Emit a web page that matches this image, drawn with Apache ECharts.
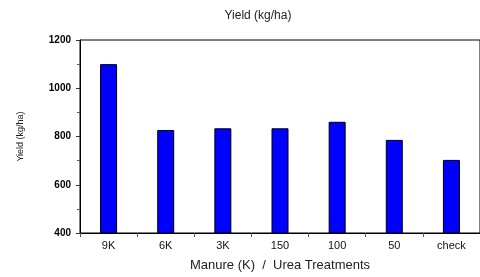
<!DOCTYPE html>
<html>
<head>
<meta charset="utf-8">
<script src="https://cdn.jsdelivr.net/npm/echarts@6/dist/echarts.min.js"></script>
<style>
  html, body { margin: 0; padding: 0; background: #fff; }
  #main { width: 480px; height: 277px; }
</style>
</head>
<body>
<div id="main"></div>
<script>
// treatments along the x axis
var treatments = ['9K', '6K', '3K', '150', '100', '50', 'check'];
// yield in kg/ha
var yields = [1100, 827, 834, 834, 861, 786, 703];

var myChart = echarts.init(document.getElementById('main'));

var option = {
  animation: false,
  backgroundColor: '#fff',
  title: {
    text: 'Yield (kg/ha)',
    left: 253,
    textAlign: 'center',
    top: 5,
    textStyle: { fontFamily: 'Liberation Sans', fontSize: 12, fontWeight: 'normal', color: '#222' }
  },
  grid: {
    left: 80, top: 40, right: -2, bottom: 44,
    show: true, borderColor: '#000', borderWidth: 1
  },
  xAxis: {
    type: 'category',
    data: treatments,
    name: 'Manure (K)  /  Urea Treatments',
    nameLocation: 'middle',
    nameGap: 26,
    nameTextStyle: { fontFamily: 'Liberation Sans', fontSize: 13, color: '#222' },
    axisLine: { lineStyle: { color: '#000', width: 1 } },
    axisTick: { show: true, length: 4, lineStyle: { color: '#555' } },
    axisLabel: { fontFamily: 'Liberation Sans', fontSize: 11, color: '#111', margin: 7 }
  },
  yAxis: {
    type: 'value',
    min: 400,
    max: 1200,
    interval: 200,
    name: 'Yield (kg/ha)',
    nameLocation: 'middle',
    nameGap: 55,
    nameTextStyle: { fontFamily: 'Liberation Sans', fontSize: 9, color: '#222' },
    axisLine: { show: true, lineStyle: { color: '#000', width: 1 } },
    axisTick: { show: true, length: 4, lineStyle: { color: '#333' } },
    minorTick: { show: true, splitNumber: 2, length: 3, lineStyle: { color: '#555' } },
    splitLine: { show: false },
    axisLabel: {
      fontFamily: 'Liberation Sans', fontSize: 10, fontWeight: 'bold', color: '#000', margin: 9,
      formatter: function (v) { return String(v); }
    }
  },
  series: [
    {
      name: 'Yield',
      type: 'bar',
      data: yields,
      barWidth: 17,
      itemStyle: { color: '#0000ff', borderColor: '#000', borderWidth: 1 }
    }
  ]
};

myChart.setOption(option);
</script>
</body>
</html>
